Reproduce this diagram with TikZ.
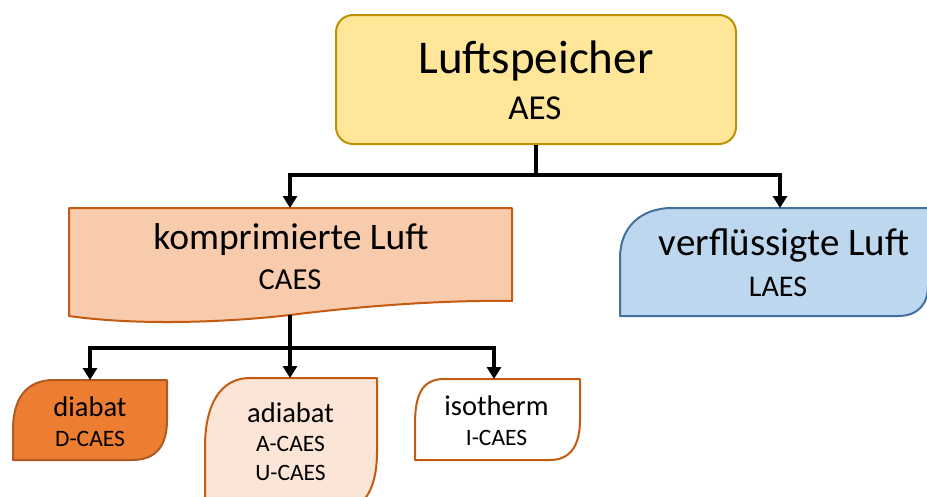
\documentclass[tikz,border=0pt]{standalone}
\usepackage{fontspec}
\setmainfont{Carlito}
\usetikzlibrary{arrows.meta}
\definecolor{yfill}{HTML}{FFE699}
\definecolor{ybord}{HTML}{BF9000}
\definecolor{cfill}{HTML}{F8CBAD}
\definecolor{cbord}{HTML}{C55A11}
\definecolor{lfill}{HTML}{BDD7EE}
\definecolor{lbord}{HTML}{41719C}
\definecolor{dfill}{HTML}{ED7D31}
\definecolor{dbord}{HTML}{AE5A21}
\definecolor{afill}{HTML}{FBE5D6}
\begin{document}
\begin{tikzpicture}[x=1pt,y=-1pt,
  box/.style={line width=2pt, line join=round},
  conn/.style={line width=3.5pt, draw=black},
  arr/.style={conn, -{Triangle[length=12pt,width=14pt]}},
  txt/.style={anchor=base, inner sep=0pt, text=black},
]
\useasboundingbox (0,0) rectangle (927,496);
\begin{scope}
\clip (0,0) rectangle (927,496);
% top box
\node[box, draw=ybord, fill=yfill, rounded corners=17pt, minimum width=400pt, minimum height=129pt, inner sep=0pt] (aes) at (536,79.5) {};
% CAES document shape
\path[box, draw=cbord, fill=cfill] (69,208) -- (512,208) -- (512,301)
  .. controls (450,300) and (370,305) .. (290,315)
  .. controls (230,322) and (140,326) .. (69,316) -- cycle;
\coordinate (caesT) at (290,208);
\coordinate (caesB) at (290,315);
% LAES
\path[box, draw=lbord, fill=lfill] (620,316) -- (620,258)
  .. controls (620,226) and (642,208) .. (672,208) -- (928,208) -- (928,286)
  .. controls (928,304) and (918,316) .. (898,316) -- cycle;
\coordinate (laesT) at (780,208);
% diabat
\path[box, draw=dbord, fill=dfill] (13,460) -- (13,430)
  .. controls (13,400) and (25,380) .. (54,380) -- (167,380) -- (167,420)
  .. controls (167,446) and (156,460) .. (132,460) -- cycle;
\coordinate (diaT) at (90,380);
% adiabat
\path[box, draw=cbord, fill=afill] (205,520) -- (205,447)
  .. controls (205,405) and (220,378) .. (250,378) -- (377,378) -- (377,452)
  .. controls (377,492) and (362,514) .. (330,514) -- cycle;
\coordinate (adiT) at (290,378);
% isotherm
\path[box, draw=cbord, fill=white] (415,460) -- (415,424)
  .. controls (415,395) and (422,379) .. (444,379) -- (580,379) -- (580,420)
  .. controls (580,446) and (570,460) .. (550,460) -- cycle;
\coordinate (isoT) at (494,379);
% connectors
\coordinate (j1) at (536,175);
\coordinate (j2) at (290,348);
\draw[conn] (aes.south) -- (j1);
\draw[arr] (j1) -| (caesT);
\draw[arr] (j1) -| (laesT);
\draw[conn] (caesB) -- (j2);
\draw[arr] (j2) -| (diaT);
\draw[arr] (j2) -- (adiT);
\draw[arr] (j2) -| (isoT);
% texts
\node[txt, font=\fontsize{47}{50}\selectfont] (t1) at (536,73) {Luftspeicher};
\node[txt, font=\fontsize{35}{38}\selectfont] (t1b) at (535,119) {AES};
\node[txt, font=\fontsize{37.5}{40}\selectfont] (t2) at (291,249) {komprimierte Luft};
\node[txt, font=\fontsize{30.5}{33}\selectfont] (t2b) at (290,289) {CAES};
\node[txt, font=\fontsize{39}{42}\selectfont] (t3) at (784,255) {verflüssigte Luft};
\node[txt, font=\fontsize{30}{33}\selectfont] (t3b) at (778,296) {LAES};
\node[txt, font=\fontsize{28.5}{31}\selectfont] (t4) at (90,416) {diabat};
\node[txt, font=\fontsize{23.5}{26}\selectfont] (t4b) at (90,446) {D-CAES};
\node[txt, font=\fontsize{28.5}{31}\selectfont] (t5) at (290.5,422) {adiabat};
\node[txt, font=\fontsize{23.5}{26}\selectfont] (t5b) at (290.5,451) {A-CAES};
\node[txt, font=\fontsize{23.5}{26}\selectfont] (t5c) at (290.5,480) {U-CAES};
\node[txt, font=\fontsize{28.5}{31}\selectfont] (t6) at (496.5,415) {isotherm};
\node[txt, font=\fontsize{23.5}{26}\selectfont] (t6b) at (496.5,445) {I-CAES};
\end{scope}
\end{tikzpicture}
\end{document}
